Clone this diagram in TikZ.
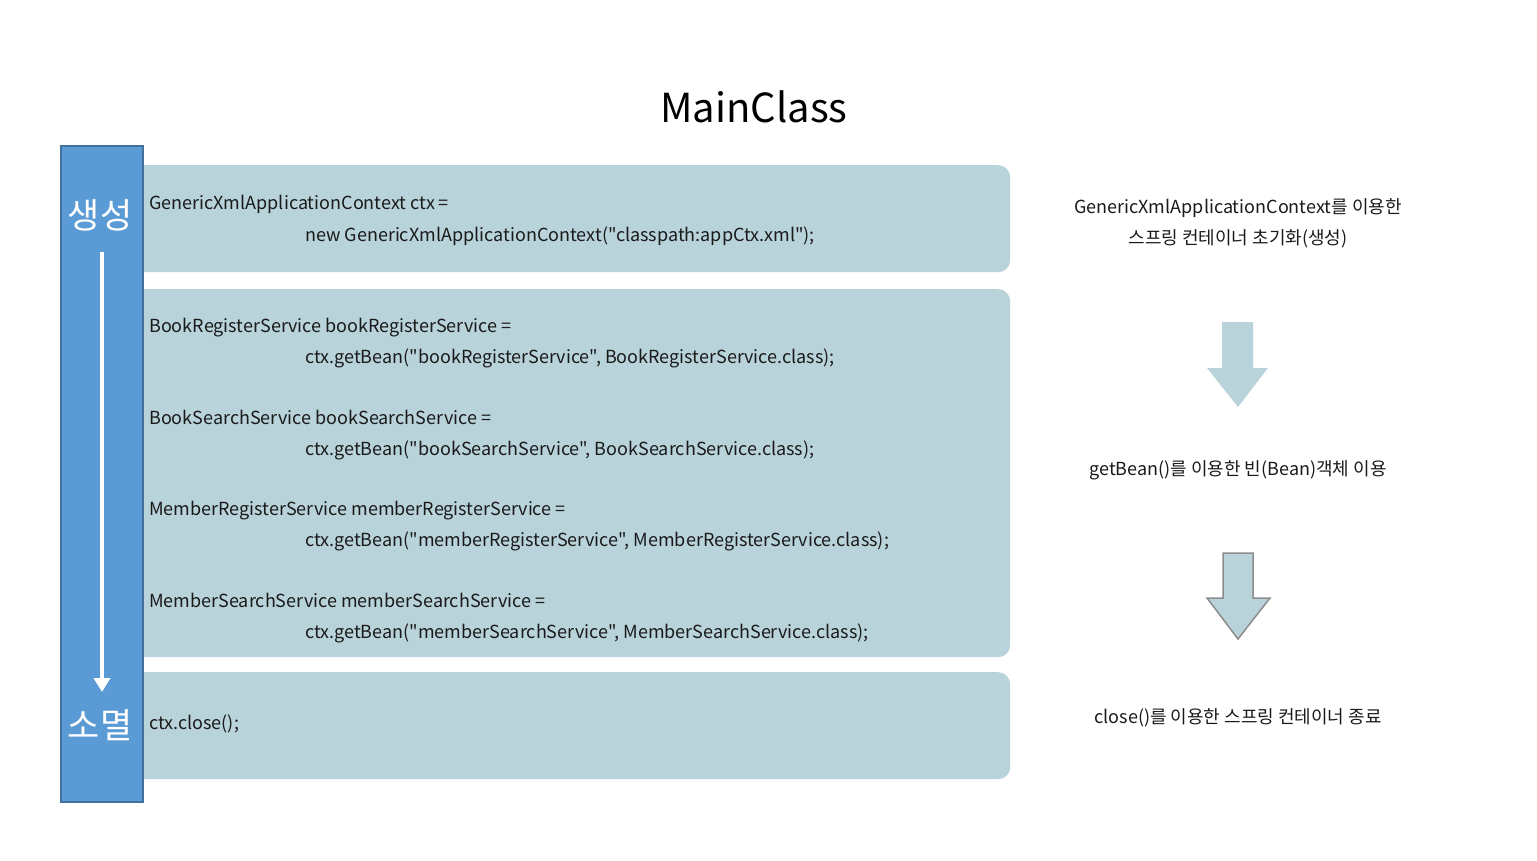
\documentclass[tikz,border=0pt]{standalone}
\usepackage{fontspec}
\setmainfont{Noto Sans CJK KR}[Ligatures=TeXOff]
\usetikzlibrary{arrows.meta}
\definecolor{boxfill}{HTML}{B9D3DB}
\definecolor{barfill}{HTML}{5B9BD5}
\definecolor{barline}{HTML}{41719C}
\definecolor{txt}{HTML}{1A1A1A}
\definecolor{arrline}{HTML}{8C8C8C}
\begin{document}
\begin{tikzpicture}[x=1pt,y=-1pt,
  codebox/.style={fill=boxfill, rounded corners=12pt, draw=none, inner sep=0, anchor=north west},
  code/.style={anchor=base west, inner sep=0, font=\fontsize{18}{20}\selectfont, text=txt},
  note/.style={anchor=base, inner sep=0, font=\fontsize{18}{20}\selectfont, text=txt},
  stage/.style={text=white, inner sep=0, font=\fontsize{35}{38}\selectfont},
  bigarrow/.style={fill=boxfill}]
\useasboundingbox (0,0) rectangle (1537,861);

% title
\node[font=\fontsize{40}{44}\selectfont, text=black] (title) at (754,107) {MainClass};

% code boxes
\node[codebox, minimum width=885pt, minimum height=107pt] (b1) at (125,165) {};
\node[codebox, minimum width=885pt, minimum height=368pt] (b2) at (125,289) {};
\node[codebox, minimum width=885pt, minimum height=107pt] (b3) at (125,672) {};

% lifecycle bar
\node[draw=barline, line width=2pt, fill=barfill, minimum width=82pt, minimum height=655pt,
      anchor=north west, inner sep=0] (bar) at (59.5,145.5) {};
\node[stage] (gen) at (100,215) {생성};
\node[stage] (end) at (100,725) {소멸};
\coordinate (a1) at (102,252);
\coordinate (a2) at (102,692);
\draw[white, line width=4pt, -{Triangle[width=16pt,length=14pt]}] (a1) -- (a2);

% code lines
\node[code] (c1) at (149,210) {GenericXmlApplicationContext ctx =};
\node[code] (c2) at (305,241) {new GenericXmlApplicationContext("classpath:appCtx.xml");};
\node[code] (c3) at (149,332) {BookRegisterService bookRegisterService =};
\node[code] (c4) at (305,363) {ctx.getBean("bookRegisterService", BookRegisterService.class);};
\node[code] (c5) at (149,424) {BookSearchService bookSearchService =};
\node[code] (c6) at (305,455) {ctx.getBean("bookSearchService", BookSearchService.class);};
\node[code] (c7) at (149,515) {MemberRegisterService memberRegisterService =};
\node[code] (c8) at (305,546) {ctx.getBean("memberRegisterService", MemberRegisterService.class);};
\node[code] (c9) at (149,607) {MemberSearchService memberSearchService =};
\node[code] (c10) at (305,638) {ctx.getBean("memberSearchService", MemberSearchService.class);};
\node[code] (c11) at (149,729) {ctx.close();};

% right notes
\node[note] (n1) at (1238,214) {GenericXmlApplicationContext를 이용한};
\node[note] (n2) at (1238,245) {스프링 컨테이너 초기화(생성)};
\node[note] (n3) at (1238,475) {getBean()를 이용한 빈(Bean)객체 이용};
\node[note] (n4) at (1238,723) {close()를 이용한 스프링 컨테이너 종료};

% big arrows
\fill[bigarrow] (1222,322) -- (1253,322) -- (1253,368) -- (1268,368) -- (1238,407)
  -- (1207,368) -- (1222,368) -- cycle;
\filldraw[bigarrow, draw=arrline, line width=1.5pt] (1223,553) -- (1253,553) -- (1253,598)
  -- (1270,598) -- (1238,639) -- (1207,598) -- (1223,598) -- cycle;
\end{tikzpicture}
\end{document}
